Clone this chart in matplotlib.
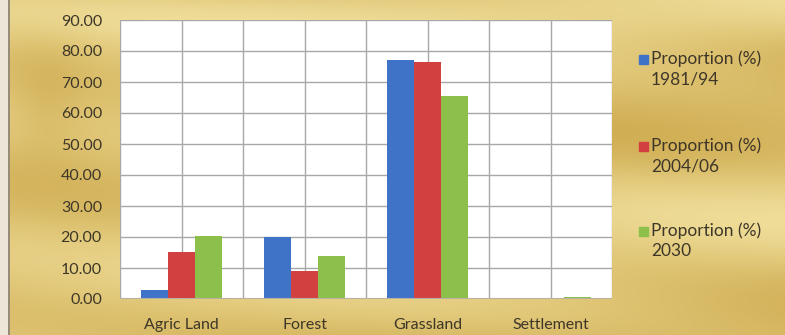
import numpy as np
import matplotlib
matplotlib.use("Agg")
import matplotlib.pyplot as plt
from matplotlib.patches import Rectangle
from matplotlib.ticker import MultipleLocator, FormatStrFormatter

categories = ["Agric Land", "Forest", "Grassland", "Settlement"]
series_names = ["Proportion (%)\n1981/94", "Proportion (%)\n2004/06", "Proportion (%)\n2030"]
p_1981_94 = [3.0, 20.1, 77.1, 0.2]
p_2004_06 = [15.2, 9.0, 76.5, 0.0]
p_2030 = [20.4, 13.9, 65.5, 0.6]
colors = ["#3f73c8", "#d2403f", "#8dbf4b"]

plt.rcParams["font.family"] = ["Lato", "DejaVu Sans"]
text_color = "#3e3728"

fig = plt.figure(figsize=(7.85, 3.35), dpi=100)

# gold textured backdrop
bg = fig.add_axes([0, 0, 1, 1], zorder=-10)
H, W = 335, 785
yy, xx = np.mgrid[0:H, 0:W] / np.array([H, W])[:, None, None]
shade = (0.55
         + 0.18 * np.sin(yy * 9.0 + xx * 2.0) * (0.4 + xx)
         + 0.12 * np.cos(yy * 17.0 - xx * 5.0)
         + 0.15 * np.exp(-((yy - 0.05) / 0.08) ** 2)
         - 0.18 * np.exp(-((xx - 0.06) / 0.05) ** 2) * np.exp(-((yy - 0.3) / 0.2) ** 2))
shade = np.clip(shade, 0, 1)
dark = np.array([198, 158, 60]) / 255
light = np.array([242, 226, 160]) / 255
img = dark[None, None, :] * (1 - shade[..., None]) + light[None, None, :] * shade[..., None]
img[:, :8] = np.array([235, 230, 215]) / 255
img[:, 8:10] = np.array([150, 140, 120]) / 255
bg.imshow(img, aspect="auto", extent=[0, 1, 0, 1], interpolation="bilinear")
bg.set_axis_off()

ax = fig.add_axes([120 / 785, 1 - 299 / 335, 492 / 785, 279 / 335])
ax.set_facecolor("white")
x = np.arange(len(categories))
w = 0.22
for i, (vals, c) in enumerate(zip([p_1981_94, p_2004_06, p_2030], colors)):
    ax.bar(x + (i - 1) * w, vals, width=w, color=c, zorder=3)

ax.set_xlim(-0.5, len(categories) - 0.5)
ax.set_ylim(0, 90)
ax.yaxis.set_major_locator(MultipleLocator(10))
ax.yaxis.set_major_formatter(FormatStrFormatter("%.2f"))
ax.set_xticks(x)
ax.set_xticklabels(categories)
ax.grid(True, axis="y", color="#a8a8a8", linewidth=1.0, zorder=0)
for gx in np.arange(-0.5, len(categories), 0.5):
    ax.axvline(gx, color="#a8a8a8", linewidth=1.0, zorder=0)
ax.tick_params(axis="both", which="both", length=0, colors=text_color, labelsize=11.5)
ax.tick_params(axis="y", pad=13)
ax.tick_params(axis="x", pad=14)
for s in ax.spines.values():
    s.set_visible(False)
ax.axhline(0, color="#b8b0a0", linewidth=1.5, zorder=4)

# legend: colour squares with two-line labels
leg_tops = [60, 147, 232]
for name, c, ty in zip(series_names, colors, leg_tops):
    fig.patches.append(Rectangle((639 / 785, 1 - (ty + 4) / 335), 9 / 785, 9 / 335,
                                 transform=fig.transFigure, color=c))
    fig.text(651 / 785, 1 - (ty - 10) / 335, name, fontsize=12.5, color=text_color,
             va="top", ha="left", linespacing=1.35)
fig.savefig("out.png", dpi=100)
